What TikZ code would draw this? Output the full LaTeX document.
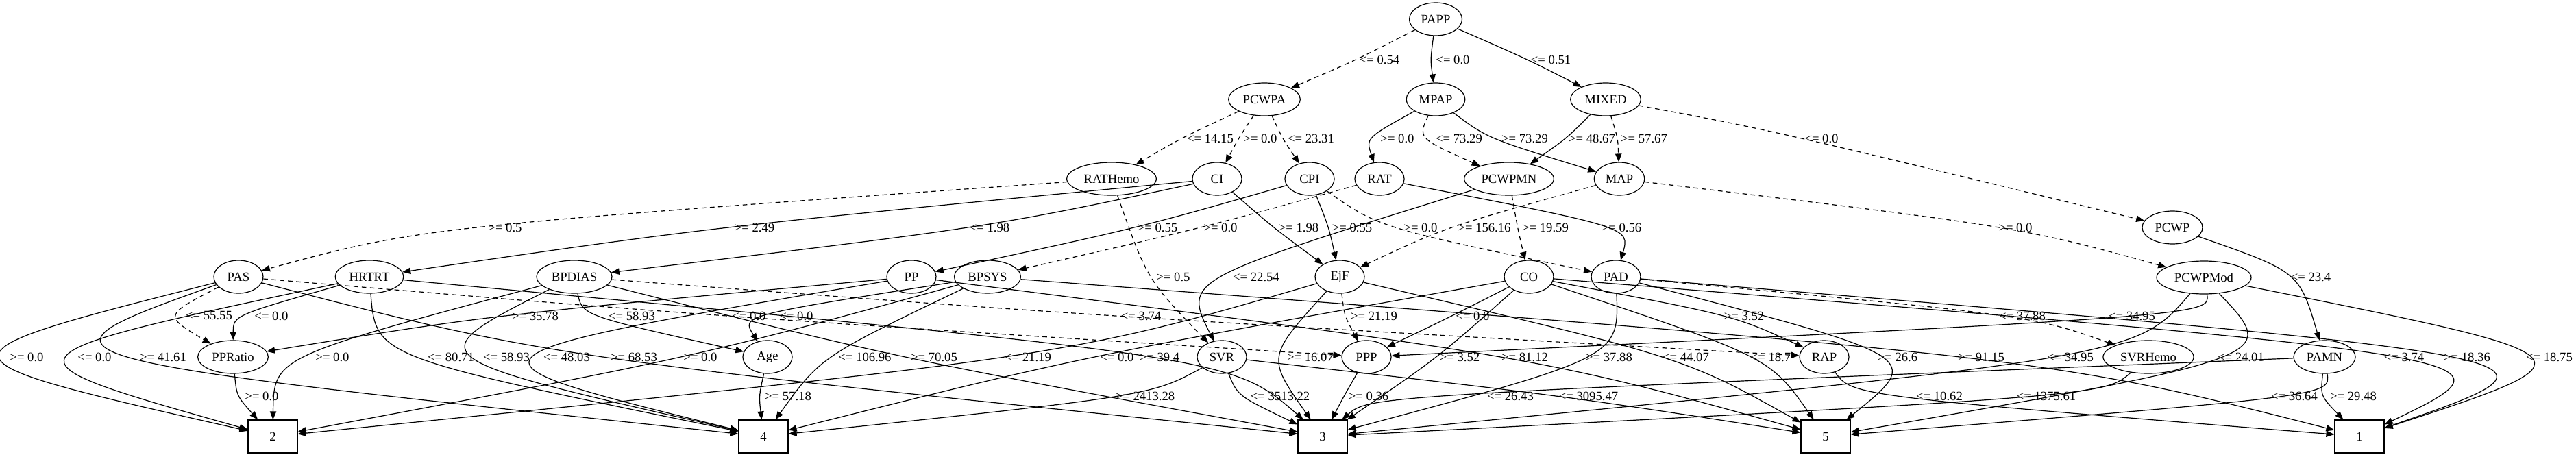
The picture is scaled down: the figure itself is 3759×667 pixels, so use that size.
\documentclass[tikz,border=0pt]{standalone}
\usepackage{fontspec}
\setmainfont{Liberation Serif}
\usetikzlibrary{arrows.meta,calc,shapes.geometric}

\begin{document}
\begin{tikzpicture}
  [x=0.75pt,y=-0.75pt,
   every node/.style={font=\fontsize{14pt}{16pt}\selectfont},
   var/.style={draw,ellipse,line width=0.9pt,minimum width=54pt,minimum height=36pt,inner xsep=4.3pt,inner ysep=2pt},
   cls/.style={draw,rectangle,line width=0.9pt,minimum width=54pt,minimum height=36pt},
   lbl/.style={inner sep=0pt},
   arc/.style={line width=0.9pt,-{Triangle[length=9pt,width=7pt]}},
   dsh/.style={arc,dash pattern=on 5pt off 4pt}]
  \useasboundingbox (0,0) rectangle (3759,667);

  \node[var] (PAPP) at (2095,28) {PAPP};

  \node[var] (PCWPA) at (1845,145) {PCWPA};
  \node[var] (MPAP) at (2095,145) {MPAP};
  \node[var] (MIXED) at (2343,145) {MIXED};

  \node[var] (RATHemo) at (1622,261) {RATHemo};
  \node[var] (CI) at (1776,261) {CI};
  \node[var] (CPI) at (1911,261) {CPI};
  \node[var] (RAT) at (2013,261) {RAT};
  \node[var] (PCWPMN) at (2202,261) {PCWPMN};
  \node[var] (MAP) at (2363,261) {MAP};
  \node[var] (PCWP) at (3170,332) {PCWP};

  \node[var] (PAS) at (348,404) {PAS};
  \node[var] (HRTRT) at (539,404) {HRTRT};
  \node[var] (BPDIAS) at (838,404) {BPDIAS};
  \node[var] (PP) at (1330,404) {PP};
  \node[var] (BPSYS) at (1441,404) {BPSYS};
  \node[var] (EjF) at (1955,404) {EjF};
  \node[var] (CO) at (2231,404) {CO};
  \node[var] (PAD) at (2358,404) {PAD};
  \node[var] (PCWPMod) at (3216,405) {PCWPMod};

  \node[var] (PPRatio) at (340,521) {PPRatio};
  \node[var] (Age) at (1120,521) {Age};
  \node[var] (SVR) at (1783,521) {SVR};
  \node[var] (PPP) at (1994,521) {PPP};
  \node[var] (RAP) at (2662,521) {RAP};
  \node[var] (SVRHemo) at (3135,521) {SVRHemo};
  \node[var] (PAMN) at (3392,521) {PAMN};

  \node[cls] (c2) at (398,637) {2};
  \node[cls] (c4) at (1114,637) {4};
  \node[cls] (c3) at (1930,637) {3};
  \node[cls] (c5) at (2664,637) {5};
  \node[cls] (c1) at (3443,637) {1};

  % dashed branches
  \foreach \src/\dst/\lx/\ly/\txt in {
    PAPP/PCWPA/2013/87/{<= 0.54}, PCWPA/RATHemo/1766/202/{<= 14.15},
    PCWPA/CI/1839/202/{>= 0.0}, PCWPA/CPI/1913/202/{<= 23.31},
    MPAP/PCWPMN/2129/202/{<= 73.29}, MIXED/MAP/2399/202/{>= 57.67},
    MIXED/PCWP/2658/202/{<= 0.0}, RATHemo/PAS/737/332/{>= 0.5},
    RAT/BPSYS/1781/332/{>= 0.0}, CPI/PAD/2073/332/{>= 0.0},
    MAP/EjF/2166/332/{>= 156.16}, PCWPMN/CO/2255/332/{>= 19.59},
    MAP/PCWPMod/2941/332/{>= 0.0}, RATHemo/SVR/1712/404/{>= 0.5},
    PAS/PPRatio/305/461/{<= 55.55}, PAS/PPP/1093/461/{<= 0.0},
    BPDIAS/RAP/1665/461/{<= 3.74}, EjF/PPP/2005/461/{>= 21.19},
    PAD/SVRHemo/2951/461/{<= 37.88}}
  {
    \node[lbl] (l\src\dst) at (\lx,\ly) {\txt};
    \path ($(\src)!.5!(\dst)$) coordinate (m) ($(l\src\dst.west)+(-6,0)$) coordinate (v)
          ($(m)!1.333!(v)$) coordinate (c);
    \draw[dsh] (\src) .. controls (c) and (c) .. (\dst);
  }

  % solid branches
  \foreach \src/\dst/\lx/\ly/\txt in {
    PAPP/MPAP/2120/87/{<= 0.0}, PAPP/MIXED/2263/87/{<= 0.51},
    MPAP/RAT/2039/202/{>= 0.0}, MPAP/MAP/2225/202/{>= 73.29},
    MIXED/PCWPMN/2323/202/{>= 48.67},
    CI/HRTRT/1101/332/{>= 2.49}, CI/BPDIAS/1444/332/{<= 1.98},
    CPI/PP/1689/332/{>= 0.55}, CI/EjF/1895/332/{>= 1.98},
    CPI/EjF/1973/332/{>= 0.55}, RAT/PAD/2366/332/{>= 0.56},
    PCWPMN/SVR/1833/404/{<= 22.54}, PCWP/PAMN/3372/404/{<= 23.4},
    HRTRT/PPRatio/396/461/{<= 0.0}, PP/PPRatio/781/461/{>= 35.78},
    BPDIAS/Age/922/461/{<= 58.93}, BPSYS/Age/1162/461/{<= 0.0},
    CO/PPP/2149/461/{<= 0.0}, CO/RAP/2545/461/{>= 3.52},
    PCWPMod/PPP/3111/461/{<= 34.95},
    PAS/c2/39/521/{>= 0.0}, HRTRT/c2/138/521/{<= 0.0},
    PAS/c4/238/521/{>= 41.61}, BPDIAS/c2/485/521/{>= 0.0},
    HRTRT/c4/658/521/{<= 80.71}, BPDIAS/c4/739/521/{<= 58.93},
    PP/c4/827/521/{<= 48.03}, PAS/c3/925/521/{>= 68.53},
    BPSYS/c2/1022/521/{>= 0.0}, BPSYS/c4/1262/521/{<= 106.96},
    BPDIAS/c3/1363/521/{>= 70.05}, EjF/c2/1500/521/{<= 21.19},
    CO/c4/1630/521/{<= 0.0}, HRTRT/c3/1692/521/{>= 39.4},
    EjF/c3/1912/521/{>= 16.07}, CO/c3/2130/521/{>= 3.52},
    PP/c5/2225/521/{>= 81.12}, PAD/c3/2348/521/{>= 37.88},
    EjF/c5/2460/521/{<= 44.07}, CO/c5/2584/521/{<= 18.7},
    PAD/c5/2769/521/{>= 26.6}, BPSYS/c1/2891/521/{>= 91.15},
    PCWPMod/c3/3021/521/{<= 34.95}, PCWPMod/c5/3270/521/{<= 24.01},
    CO/c1/3508/521/{<= 3.74}, PAD/c1/3600/521/{>= 18.36},
    PCWPMod/c1/3720/521/{<= 18.75},
    PPRatio/c2/382/578/{>= 0.0}, Age/c4/1150/578/{>= 57.18},
    SVR/c4/1671/578/{>= 2413.28}, SVR/c3/1868/578/{<= 3513.22},
    PPP/c3/1997/578/{>= 0.36}, PAMN/c3/2204/578/{<= 26.43},
    SVR/c5/2318/578/{<= 3095.47}, RAP/c1/2830/578/{<= 10.62},
    SVRHemo/c3/2986/578/{<= 1375.61}, PAMN/c5/3348/578/{<= 36.64},
    PAMN/c1/3434/578/{>= 29.48}}
  {
    \node[lbl] (l\src\dst) at (\lx,\ly) {\txt};
    \path ($(\src)!.5!(\dst)$) coordinate (m) ($(l\src\dst.west)+(-6,0)$) coordinate (v)
          ($(m)!1.333!(v)$) coordinate (c);
    \draw[arc] (\src) .. controls (c) and (c) .. (\dst);
  }
\end{tikzpicture}
\end{document}
